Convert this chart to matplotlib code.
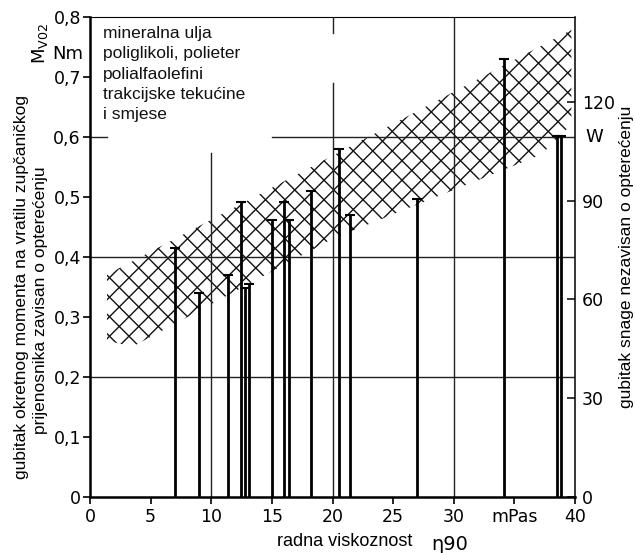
import matplotlib
matplotlib.use('Agg')
import matplotlib.pyplot as plt
from matplotlib.patches import Polygon
import numpy as np

plt.rcParams['font.family'] = ['DejaVu Sans']
plt.rcParams['mathtext.fontset'] = 'dejavusans'

# radna viskoznost (mPas) i gubitak momenta (Nm) za pojedina ulja
visc = [7.05, 8.95, 11.4, 12.45, 12.75, 13.1, 15.05, 16.0, 16.4, 18.2,
        20.5, 21.45, 27.0, 34.15, 38.55, 38.85]
moment = [0.414, 0.340, 0.369, 0.491, 0.348, 0.354, 0.462, 0.492, 0.461, 0.509,
          0.579, 0.469, 0.496, 0.729, 0.601, 0.601]

# rub srafiranog pojasa
band_x = [1.4, 1.4, 39.7, 39.7, 37.2, 20.0, 3.5]
band_y = [0.26, 0.37, 0.778, 0.62, 0.57, 0.43, 0.25]

# pomocne linije: (y, x_od, x_do) i (x, y_od, y_do)
hlines = [(0.2, 0, 40), (0.4, 0, 40), (0.6, 0, 1.4), (0.6, 15, 40)]
vlines = [(10, 0, 0.573), (20, 0, 0.69), (20, 0.773, 0.8), (30, 0, 0.8)]

xticks = [0, 5, 10, 15, 20, 25, 30, 35, 40]
xticklabels = ['0', '5', '10', '15', '20', '25', '30', 'mPas', '40']
yticks = [0, 0.1, 0.2, 0.3, 0.4, 0.5, 0.6, 0.7, 0.8]
yticklabels = ['0', '0,1', '0,2', '0,3', '0,4', '0,5', '0,6', '0,7', '0,8']
wticks = [0, 30, 60, 90, 120]

W, H = 635, 553
fig = plt.figure(figsize=(W / 100, H / 100), dpi=100)
ax = fig.add_axes([90 / W, 56.3 / H, 485 / W, 480 / H])
ax.set_xlim(0, 40)
ax.set_ylim(0, 0.8)

# srafura: linije pod 45 stupnjeva (u pikselima), odrezane na pojas
band = Polygon(list(zip(band_x, band_y)), closed=True, facecolor='none',
               edgecolor='none', lw=0)
ax.add_patch(band)
hatch_px = 19.5
px_x = 485 / 40.0
px_y = 480 / 0.8
k = px_x / px_y
step = hatch_px / px_x * k
xs = np.array([0.0, 40.0])
for sgn in (1, -1):
    for c in np.arange(-1.0, 1.6, step):
        ln, = ax.plot(xs, sgn * k * xs + c, color='#111111', lw=1.0)
        ln.set_clip_path(band)

for y, x0, x1 in hlines:
    ax.plot([x0, x1], [y, y], color='#222222', lw=1.0)
for x, y0, y1 in vlines:
    ax.plot([x, x], [y0, y1], color='#222222', lw=1.0)

ax.vlines(visc, 0, moment, color='black', lw=2.0)
ax.plot(visc, moment, ls='none', marker='_', ms=7, mew=1.5, color='black')

ax.text(1.05, 0.785, 'mineralna ulja\npoliglikoli, polieter\npolialfaolefini\n'
        'trakcijske tekućine\ni smjese', fontsize=12.5, family='Liberation Sans',
        va='top', ha='left', linespacing=1.45, color='#111111')

ax.set_xticks(xticks)
ax.set_xticklabels(xticklabels, fontsize=12.5)
ax.set_yticks(yticks)
ax.set_yticklabels(yticklabels, fontsize=12.5)
ax.tick_params(axis='x', direction='out', length=5, width=1.2, pad=3)
ax.tick_params(axis='y', direction='out', length=5, width=1.2, pad=1.5)

ax.spines['left'].set_linewidth(1.8)
ax.spines['bottom'].set_linewidth(1.8)
ax.spines['top'].set_linewidth(0.8)
ax.spines['right'].set_linewidth(1.1)

ax2 = ax.twinx()
ax2.set_ylim(0, 146)
ax2.set_yticks(wticks)
ax2.set_yticklabels([str(v) for v in wticks], fontsize=12.5)
ax2.tick_params(axis='y', direction='in', length=6, width=1.1, pad=5)
for s in ax2.spines.values():
    s.set_visible(False)

fig.text(22 / W, 1 - 287 / H, 'gubitak okretnog momenta na vratilu zupčaničkog',
         rotation=90, ha='center', va='center', fontsize=12.5, family='Liberation Sans')
fig.text(41 / W, 1 - 300 / H, 'prijenosnika zavisan o opterećenju',
         rotation=90, ha='center', va='center', fontsize=12.5, family='Liberation Sans')
fig.text(627 / W, 1 - 257 / H, 'gubitak snage nezavisan o opterećenju',
         rotation=90, ha='center', va='center', fontsize=12.5, family='Liberation Sans')
fig.text(40 / W, 1 - 43 / H, r'$\mathregular{M_{V02}}$', rotation=90,
         ha='center', va='center', fontsize=13)
fig.text(68 / W, 1 - 54 / H, 'Nm', ha='center', va='center', fontsize=13)
fig.text(594 / W, 1 - 137 / H, 'W', ha='center', va='center', fontsize=13)
fig.text(345 / W, 1 - 541 / H, 'radna viskoznost', ha='center', va='center',
         fontsize=13, family='Liberation Sans')
fig.text(450 / W, 1 - 545 / H, 'η90', ha='center', va='center', fontsize=14)

fig.savefig('out.png', dpi=100)
